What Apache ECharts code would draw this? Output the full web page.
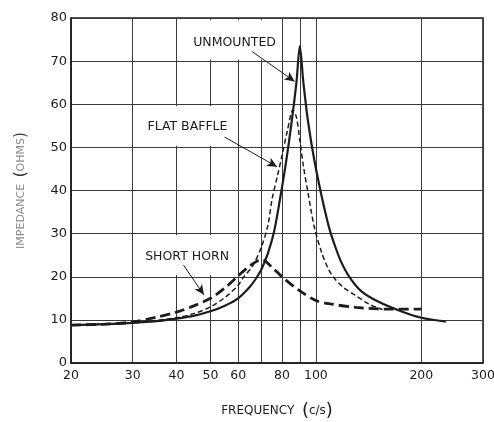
<!DOCTYPE html>
<html>
<head>
<meta charset="utf-8">
<script src="https://cdn.jsdelivr.net/npm/echarts@6/dist/echarts.min.js"></script>
<style>
  html, body { margin: 0; padding: 0; background: #fff; }
  #chart { width: 494px; height: 422px; }
</style>
</head>
<body>
<div id="chart"></div>
<script>
// frequency (c/s) and impedance (ohms)
const unmountedFreq = [20, 25, 30, 35, 40, 45, 50, 55, 60, 65, 68, 70, 73, 76, 79, 82, 85, 88, 90, 92, 95, 99, 104, 109, 113, 118, 125, 135, 150, 175, 200, 235]
const unmountedZ = [8.8, 9.0, 9.3, 9.7, 10.3, 11.0, 12.0, 13.3, 15.0, 17.8, 20.0, 21.8, 25.5, 30.5, 38, 46, 55, 65, 73.5, 65.5, 56, 47, 38.5, 31.5, 27.5, 23.5, 19.8, 16.6, 14.3, 12.0, 10.5, 9.6]

const flatBaffleFreq = [20, 30, 40, 45, 50, 55, 60, 62, 66, 70, 73, 75, 78, 80, 83, 86, 88, 90, 92, 95, 99, 104, 108, 112, 120, 129, 143, 155]
const flatBaffleZ = [8.8, 9.3, 10.5, 11.5, 13.0, 15.2, 18.0, 19.8, 22.5, 27, 32, 38, 44, 48, 54, 58.7, 57, 51.7, 46, 39.4, 31.5, 25.5, 22.2, 20.0, 17.5, 15.8, 13.5, 12.4]

const shortHornFreq = [20, 25, 30, 35, 40, 45, 50, 55, 60, 65, 70, 75, 80, 89, 100, 110, 130, 160, 200]
const shortHornZ = [8.8, 9.0, 9.5, 10.6, 11.8, 13.3, 15.0, 17.4, 20.2, 22.6, 24.0, 22.2, 20.0, 17.0, 14.5, 13.7, 12.9, 12.5, 12.5]

const gridFreqs = [20, 30, 40, 50, 60, 70, 80, 90, 100, 200, 300]
const labelFreqs = [20, 30, 40, 50, 60, 80, 100, 200, 300]

// curve names and where they sit on the chart (data coords)
const curveNames = ['UNMOUNTED', 'FLAT BAFFLE', 'SHORT HORN']
const namePos = [[58.6, 74.2], [43, 54.8], [42.9, 24.7]]
const arrowFrom = [[65.8, 72.2], [54.9, 52.4], [41.9, 22.7]]
const arrowTo = [[87, 65.3], [77.5, 45.5], [47.9, 15.8]]
// empty cells of the grid behind the names
const blankFrom = [[41, 70.4], [31, 50.4], [31, 20.4]]
const blankTo = [[79, 79.6], [58, 59.6], [58, 29.6]]

function pairs(xs, ys) {
  return xs.map((x, i) => [x, ys[i]])
}

const ink = '#1c1c1c'
const font = 'DejaVu Sans'

const chart = echarts.init(document.getElementById('chart'))

const option = {
  backgroundColor: '#fff',
  animation: false,
  grid: {
    left: 71,
    right: 11,
    top: 18,
    bottom: 59,
    outerBoundsMode: 'none',
    show: true,
    borderColor: ink,
    borderWidth: 1.5,
    backgroundColor: 'transparent'
  },
  xAxis: {
    type: 'log',
    logBase: 10,
    min: 20,
    max: 300,
    name: 'FREQUENCY  {p|(}c/s{p|)}',
    nameLocation: 'middle',
    nameGap: 39,
    nameTextStyle: {
      fontFamily: font,
      fontSize: 12,
      color: ink,
      rich: {
        p: { fontSize: 18, fontFamily: font, color: ink }
      }
    },
    axisLine: { show: true, lineStyle: { color: ink, width: 1.5 } },
    axisTick: { show: false, customValues: gridFreqs },
    axisLabel: {
      customValues: labelFreqs,
      formatter: (v) => String(Math.round(v)),
      margin: 6,
      fontFamily: font,
      fontSize: 12.5,
      color: ink
    },
    splitLine: { show: true, lineStyle: { color: '#3a3a3a', width: 1 } },
    minorSplitLine: { show: false }
  },
  yAxis: {
    type: 'value',
    min: 0,
    max: 80,
    interval: 10,
    name: '{a|IMPEDANCE}  {b|(}{a|OHMS}{b|)}',
    nameLocation: 'middle',
    nameRotate: 90,
    nameGap: 42,
    nameTextStyle: {
      rich: {
        a: { fontFamily: font, fontSize: 11, color: '#8c8c8c' },
        b: { fontFamily: font, fontSize: 15, color: '#333' }
      }
    },
    axisLine: { show: true, lineStyle: { color: ink, width: 1.5 } },
    axisTick: { show: false },
    axisLabel: {
      margin: 4,
      fontFamily: font,
      fontSize: 13,
      color: ink
    },
    splitLine: { show: true, lineStyle: { color: '#3a3a3a', width: 1 } }
  },
  series: [
    {
      name: 'Unmounted',
      type: 'line',
      data: pairs(unmountedFreq, unmountedZ),
      smooth: 0.3,
      symbol: 'none',
      lineStyle: { color: ink, width: 2.2, type: 'solid' },
      z: 4
    },
    {
      name: 'Flat baffle',
      type: 'line',
      data: pairs(flatBaffleFreq, flatBaffleZ),
      smooth: 0.3,
      symbol: 'none',
      lineStyle: { color: ink, width: 1.5, type: [5, 3] },
      z: 3
    },
    {
      name: 'Short horn',
      type: 'line',
      data: pairs(shortHornFreq, shortHornZ),
      smooth: 0.3,
      symbol: 'none',
      lineStyle: { color: ink, width: 2.8, type: [10, 5] },
      z: 3
    },
    {
      // annotations: names, arrows, blank cells
      name: 'notes',
      type: 'line',
      data: [],
      silent: true,
      markArea: {
        silent: true,
        itemStyle: { color: '#fff' },
        data: blankFrom.map((p, i) => [{ coord: p }, { coord: blankTo[i] }])
      },
      markLine: {
        silent: true,
        symbol: ['none', 'arrow'],
        symbolSize: [7, 10],
        lineStyle: { color: ink, width: 1, type: 'solid' },
        label: { show: false },
        data: arrowFrom.map((p, i) => [{ coord: p }, { coord: arrowTo[i] }])
      },
      markPoint: {
        silent: true,
        symbol: 'rect',
        symbolSize: 1,
        itemStyle: { color: 'transparent' },
        label: {
          show: true,
          position: 'inside',
          formatter: (p) => p.name,
          fontFamily: font,
          fontSize: 12.5,
          color: ink
        },
        data: curveNames.map((n, i) => ({ name: n, coord: namePos[i] }))
      }
    }
  ]
}

chart.setOption(option)
</script>
</body>
</html>
